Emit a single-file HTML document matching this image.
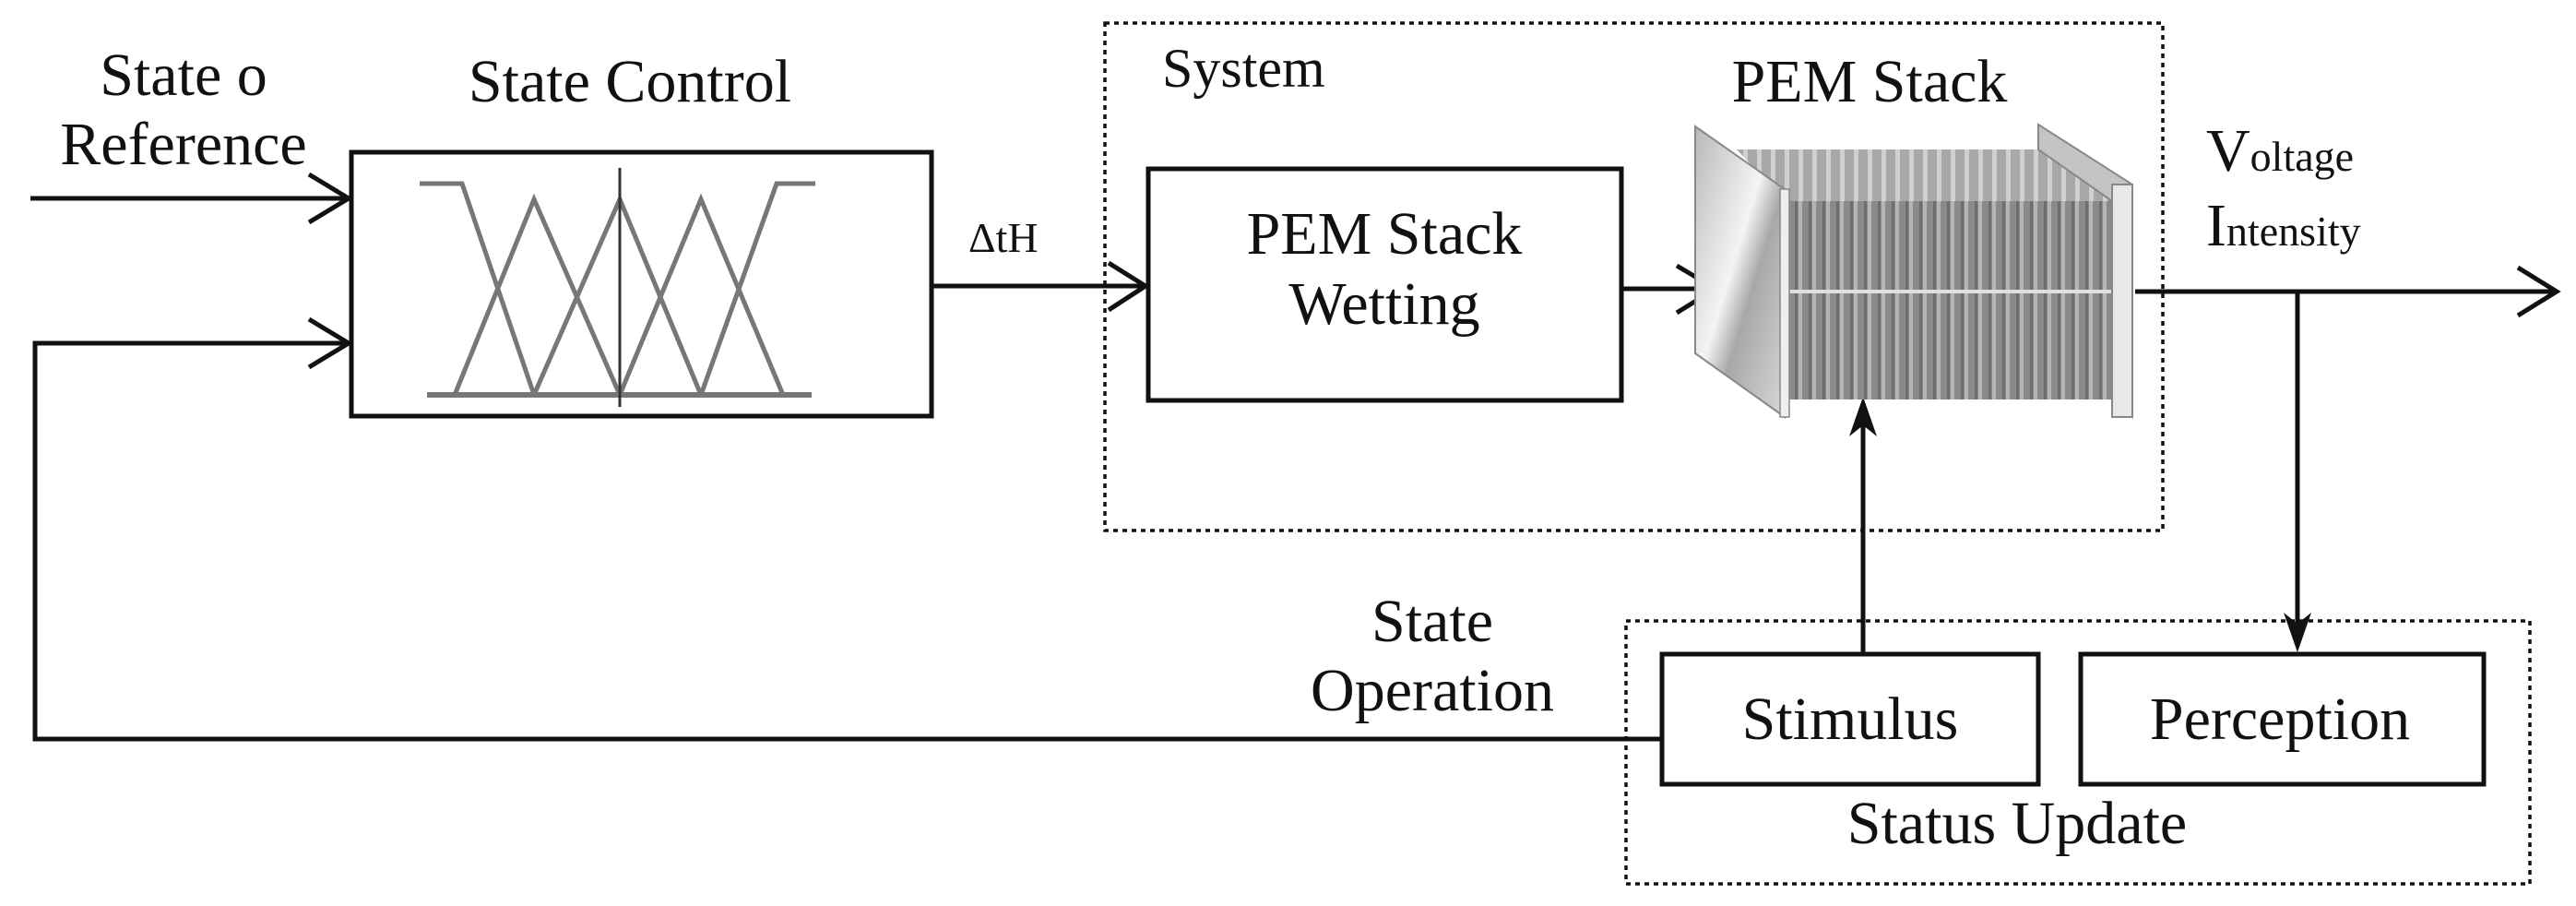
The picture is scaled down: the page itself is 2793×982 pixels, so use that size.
<!DOCTYPE html>
<html><head><meta charset="utf-8"><style>
html,body{margin:0;padding:0;background:#fff;}
svg{display:block;}
svg text{font-family:"Liberation Serif","Times New Roman","DejaVu Serif",serif;fill:#111;}
</style></head><body>
<svg width="2793" height="982" viewBox="0 0 2793 982" xmlns="http://www.w3.org/2000/svg" font-family="Liberation Serif, Times New Roman, DejaVu Serif, serif">
<defs>
<pattern id="fins" x="1935" y="0" width="15" height="10" patternUnits="userSpaceOnUse">
<rect width="15" height="10" fill="#8a8a8a"/>
<rect x="0" width="4" height="10" fill="#b5b5b5"/>
<rect x="11" width="3" height="10" fill="#6e6e6e"/>
</pattern>
<pattern id="topfins" x="1935" y="0" width="15" height="10" patternUnits="userSpaceOnUse">
<rect width="15" height="10" fill="#a8a8a8"/>
<rect x="0" width="5" height="10" fill="#d0d0d0"/>
</pattern>
<linearGradient id="plate" x1="0" y1="0" x2="1" y2="1">
<stop offset="0" stop-color="#b8b8b8"/>
<stop offset="0.45" stop-color="#f4f4f4"/>
<stop offset="0.6" stop-color="#a8a8a8"/>
<stop offset="1" stop-color="#d8d8d8"/>
</linearGradient>
</defs>
<g fill="none" stroke="#111" stroke-width="5">
<rect x="1198" y="25" width="1147" height="550" stroke-width="3.5" stroke-dasharray="5,5"/>
<rect x="1763" y="673" width="980" height="285" stroke-width="3.5" stroke-dasharray="5,5"/>
<rect x="381" y="165" width="629" height="286"/>
<rect x="1245" y="183" width="513" height="251"/>
<rect x="1802" y="709" width="408" height="141"/>
<rect x="2256" y="709" width="437" height="141"/>
<line x1="33" y1="215" x2="378" y2="215"/>
<polyline points="335,189 378,215 335,241"/>
<polyline points="1802,801 38,801 38,372 378,372"/>
<polyline points="335,346 378,372 335,398"/>
<line x1="1010" y1="310" x2="1242" y2="310"/>
<polyline points="1202,285 1242,310 1202,336"/>
<line x1="1758" y1="313" x2="1860" y2="313"/>
<polyline points="1818,288 1860,313 1818,339"/>
<line x1="2315" y1="316" x2="2772" y2="316"/>
<polyline points="2730,290 2772,316 2730,342"/>
<line x1="2491" y1="316" x2="2491" y2="700"/>
<line x1="2020" y1="709" x2="2020" y2="445"/>
</g>
<polygon points="2491,707 2476,664 2491,676 2506,664" fill="#111"/>
<polygon points="2020,430 2005,473 2020,461 2035,473" fill="#111"/>
<g fill="none" stroke="#777" stroke-width="5">
<polyline points="455,199 501,199 579,428"/>
<polyline points="493,428 579,216 672,428"/>
<polyline points="579,428 672,216 760,428"/>
<polyline points="672,428 760,216 849,428"/>
<polyline points="760,428 842,199 884,199"/>
<line x1="463" y1="428" x2="880" y2="428" stroke-width="6"/>
</g>
<line x1="672" y1="182" x2="672" y2="441" stroke="#333" stroke-width="3"/>
<polygon points="1883,162 2210,162 2290,218 1935,218" fill="url(#topfins)"/>
<rect x="1935" y="218" width="355" height="215" fill="url(#fins)"/>
<rect x="1935" y="314" width="355" height="4" fill="#e0e0e0"/>
<polygon points="2210,135 2312,200 2312,452 2290,440 2290,218 2210,162" fill="#c4c4c4" stroke="#888" stroke-width="2"/>
<rect x="2290" y="200" width="22" height="252" fill="#e8e8e8" stroke="#888" stroke-width="2"/>
<polygon points="1838,137 1935,205 1935,452 1838,383" fill="url(#plate)" stroke="#888" stroke-width="2"/>
<rect x="1930" y="205" width="10" height="247" fill="#eee" stroke="#888" stroke-width="1.5"/>
<g font-size="66">
<text x="199" y="103" text-anchor="middle">State o</text>
<text x="199" y="178" text-anchor="middle">Reference</text>
<text x="683" y="110" text-anchor="middle">State Control</text>
<text x="1050" y="273" font-size="46">ΔtH</text>
<text x="1260" y="94" font-size="60">System</text>
<text x="2027" y="110" text-anchor="middle">PEM Stack</text>
<text x="1501" y="275" text-anchor="middle">PEM Stack</text>
<text x="1501" y="351" text-anchor="middle">Wetting</text>
<text x="2392" y="185">V<tspan font-size="46">oltage</tspan></text>
<text x="2392" y="266">I<tspan font-size="46">ntensity</tspan></text>
<text x="1553" y="695" text-anchor="middle">State</text>
<text x="1553" y="770" text-anchor="middle">Operation</text>
<text x="2006" y="801" text-anchor="middle">Stimulus</text>
<text x="2472" y="801" text-anchor="middle">Perception</text>
<text x="2187" y="914" text-anchor="middle">Status Update</text>
</g>
</svg>
</body></html>
